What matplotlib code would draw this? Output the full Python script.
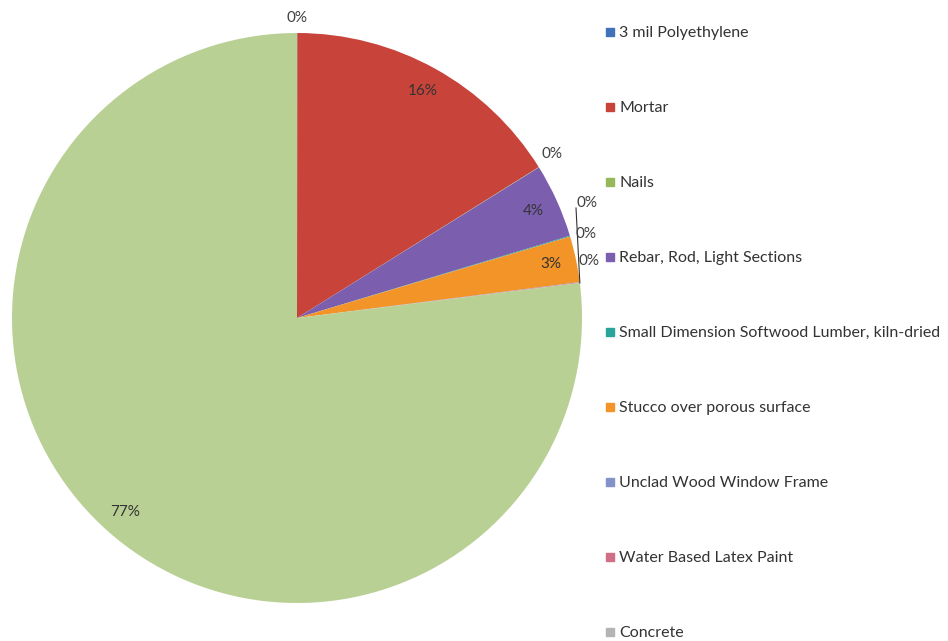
import matplotlib.pyplot as plt
from matplotlib.lines import Line2D
import numpy as np

plt.rcParams['font.family'] = ['Lato', 'DejaVu Sans']

materials = ['3 mil Polyethylene', 'Mortar', 'Nails', 'Rebar, Rod, Light Sections',
             'Small Dimension Softwood Lumber, kiln-dried', 'Stucco over porous surface',
             'Unclad Wood Window Frame', 'Water Based Latex Paint', 'Concrete']
shares = [0.02, 16.1, 0.02, 4.2, 0.05, 2.6, 0.02, 0.03, 76.96]

slice_colors = ['#3f72b8', '#c8433a', '#97b85a', '#7b5fae', '#2aa39a',
                '#f39428', '#8393c9', '#cf6e86', '#b9d095']
legend_colors = ['#3f72b8', '#c8433a', '#97b85a', '#7b5fae', '#2aa39a',
                 '#f39428', '#8393c9', '#cf6e86', '#b4b4b4']

# where the tiny slices get their labels (outside the pie, data units)
outside_pos = {0: (0.0, 1.053), 2: (0.895, 0.575), 4: (1.018, 0.404),
               6: (1.014, 0.295), 7: (1.025, 0.200)}

fig = plt.figure(figsize=(9.48, 6.41), dpi=100)
ax = fig.add_axes([12 / 948, 38 / 641, 570 / 948, 570 / 641])

wedges, _, autotexts = ax.pie(shares, colors=slice_colors, startangle=90,
                              counterclock=False, autopct='%.0f%%',
                              pctdistance=0.91, radius=1.0,
                              wedgeprops=dict(linewidth=0),
                              textprops=dict(fontsize=11, color='#333333'))
ax.set_xlim(-1, 1)
ax.set_ylim(-1, 1)
ax.set_aspect('equal')

for i, t in enumerate(autotexts):
    if i in outside_pos:
        t.set_position(outside_pos[i])
        t.set_color('#404040')
        t.set_ha('center')
        t.set_va('center')

# leader line for the crowded labels near the stucco wedge
theta = np.deg2rad(wedges[7].theta1)
ax.plot([np.cos(theta), 0.979], [np.sin(theta), 0.386], color='#333333',
        linewidth=0.8, clip_on=False)

handles = [Line2D([], [], marker='s', linestyle='none', markersize=5.5,
                  markerfacecolor=c, markeredgecolor=c) for c in legend_colors]
leg = fig.legend(handles, materials, loc='upper left',
                 bbox_to_anchor=(598 / 948, 1 - 18 / 641), frameon=False,
                 fontsize=11.5, labelspacing=3.81, handlelength=0.55,
                 handletextpad=0.28, borderpad=0)
for txt in leg.get_texts():
    txt.set_color('#333333')

fig.savefig('out.png', dpi=100, facecolor='white')
